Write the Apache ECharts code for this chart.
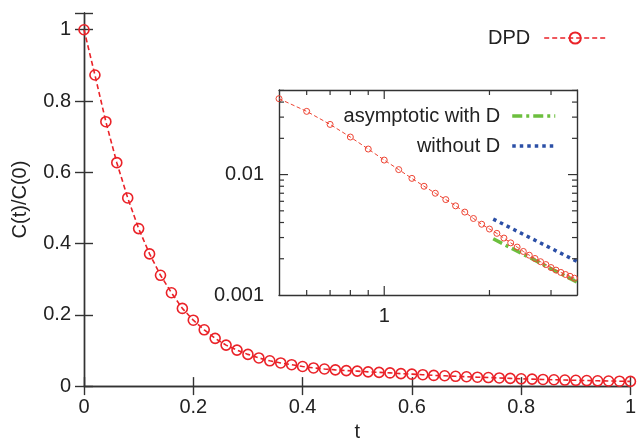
<!DOCTYPE html>
<html><head><meta charset="utf-8">
<script src="https://cdn.jsdelivr.net/npm/echarts@6/dist/echarts.min.js"></script>
<style>html,body{margin:0;padding:0;background:#fff}#c{width:639px;height:447px}</style>
</head><body><div id="c"></div>
<script>
// ---- main panel: DPD correlation C(t)/C(0) ----
const tMain = [0,0.02,0.04,0.06,0.08,0.10,0.12,0.14,0.16,0.18,0.20,0.22,0.24,0.26,0.28,0.30,0.32,0.34,0.36,0.38,0.40,0.42,0.44,0.46,0.48,0.50,0.52,0.54,0.56,0.58,0.60,0.62,0.64,0.66,0.68,0.70,0.72,0.74,0.76,0.78,0.80,0.82,0.84,0.86,0.88,0.90,0.92,0.94,0.96,0.98,1.00];
const cMain = [1.0,0.873,0.742,0.627,0.528,0.442,0.371,0.311,0.262,0.218,0.185,0.158,0.134,0.115,0.101,0.089,0.079,0.071,0.065,0.060,0.055,0.051,0.048,0.0455,0.0435,0.042,0.040,0.0385,0.037,0.035,0.0335,0.032,0.030,0.029,0.0275,0.0262,0.025,0.024,0.0228,0.0216,0.0205,0.0196,0.0187,0.0178,0.0170,0.0163,0.0156,0.0149,0.0143,0.0137,0.0132];
const mainXTicks = [0,0.2,0.4,0.6,0.8,1];
const mainYTicks = [0,0.2,0.4,0.6,0.8,1];

// ---- inset: log-log ----
const tInset = [0.5,0.6,0.7,0.8,0.9,1.0,1.1,1.2,1.3,1.4,1.5,1.6,1.7,1.8,1.9,2.0,2.1,2.2,2.3,2.4,2.5,2.6,2.7,2.8,2.9,3.0,3.1,3.2,3.3,3.4,3.5];
const cInset = [0.0427,0.0335,0.0261,0.0205,0.0163,0.0132,0.0110,0.0093,0.0080,0.0070,0.0062,0.0055,0.00488,0.00432,0.00387,0.00353,0.00325,0.00297,0.00271,0.00250,0.00230,0.00214,0.00201,0.00189,0.00179,0.00169,0.00161,0.00154,0.00148,0.00143,0.00138];
const tAsym = [2.05,3.56];
const cWithD = [0.00293,0.00128];
const cWithoutD = [0.00427,0.00190];
const insetXMinorTicks = [0.6,0.7,0.8,0.9,2,3];
const insetXMajorTicks = [1];
const insetYMinorTicks = [0.002,0.003,0.004,0.005,0.006,0.007,0.008,0.009,0.02,0.03,0.04,0.05];
const insetYMajorTicks = [0.01];
const insetXRange = [0.5,3.56];
const insetYRange = [0.001,0.0504];

const FONT = "'Liberation Sans', Arial, Helvetica, sans-serif";
const AX = '#333';
const TXT = '#222';
const RED = '#ea2228';
const RED2 = '#ee4433';
const GREEN = '#6cbf3e';
const BLUE = '#2b4fa6';

function zip(a,b){return a.map((v,i)=>[v,b[i]]);}
const lineAx = {show:true, lineStyle:{color:AX,width:1.4}};

const chart = echarts.init(document.getElementById('c'), null, {renderer:'canvas'});

function tickRender(isX){
  return function(params, api){
    const cs = params.coordSys;
    const major = api.value(2);
    const len = major ? 9 : 5;
    const st = {stroke:AX, lineWidth:1.2};
    if (isX){
      const p = api.coord([api.value(0), insetYRange[0]]);
      const yb = cs.y + cs.height, yt = cs.y;
      return {type:'group', children:[
        {type:'line', shape:{x1:p[0],y1:yb,x2:p[0],y2:yb-len}, style:st},
        {type:'line', shape:{x1:p[0],y1:yt,x2:p[0],y2:yt+len}, style:st}
      ]};
    } else {
      const p = api.coord([insetXRange[0], api.value(1)]);
      const xl = cs.x, xr = cs.x + cs.width;
      return {type:'group', children:[
        {type:'line', shape:{x1:xl,y1:p[1],x2:xl+len,y2:p[1]}, style:st},
        {type:'line', shape:{x1:xr,y1:p[1],x2:xr-len,y2:p[1]}, style:st}
      ]};
    }
  };
}

const xTickData = insetXMinorTicks.map(v=>[v,insetYRange[0],0]).concat(insetXMajorTicks.map(v=>[v,insetYRange[0],1]));
const yTickData = insetYMinorTicks.map(v=>[insetXRange[0],v,0]).concat(insetYMajorTicks.map(v=>[insetXRange[0],v,1]));

function fmtMain(v){
  const ok = mainXTicks.some(t=>Math.abs(t-v)<1e-6);
  return ok ? String(Number(v.toFixed(2))) : '';
}
function fmtLog(v){
  const l = Math.log10(v);
  return Math.abs(l-Math.round(l))<1e-6 ? String(Number(v.toPrecision(6))) : '';
}

const option = {
  animation:false,
  backgroundColor:'#fff',
  textStyle:{fontFamily:FONT},
  grid:[
    {left:84, top:13, width:549, height:396},
    {left:279, top:90, width:298, height:205}
  ],
  legend:[
    {data:['DPD'], right:32, top:26, align:'right', padding:0, itemWidth:62, itemHeight:14,
     lineStyle:{width:'inherit'},
     textStyle:{fontFamily:FONT, fontSize:20, color:TXT, lineHeight:24, padding:[0,9,0,0]}},
    {data:[{name:'asymptotic with D', itemStyle:{opacity:0}}, {name:'without D', itemStyle:{opacity:0}}],
     orient:'vertical', right:82, top:104, align:'right', padding:0,
     itemGap:6, itemWidth:43, itemHeight:14,
     lineStyle:{width:'inherit'},
     textStyle:{fontFamily:FONT, fontSize:20, color:TXT, lineHeight:24, padding:[0,7,0,0]}}
  ],
  xAxis:[
    {gridIndex:0, type:'value', min:0, max:1, interval:0.2, position:'bottom',
     axisLine:lineAx, axisTick:{inside:true, length:9, lineStyle:{color:AX,width:1.4}},
     axisLabel:{fontFamily:FONT, fontSize:20, color:TXT, margin:11, formatter:fmtMain},
     splitLine:{show:false},
     name:'t', nameLocation:'middle', nameGap:22, nameTextStyle:{fontFamily:FONT, fontSize:20, color:TXT}},
    {gridIndex:0, type:'value', min:0, max:1, interval:0.2, position:'top',
     axisLine:lineAx, axisTick:{inside:true, length:9, lineStyle:{color:AX,width:1.4}},
     axisLabel:{show:false}, splitLine:{show:false}},
    {gridIndex:1, type:'log', logBase:10, min:insetXRange[0], max:insetXRange[1], position:'bottom',
     axisLine:lineAx, axisTick:{show:false},
     axisLabel:{fontFamily:FONT, fontSize:20, color:TXT, margin:11, formatter:fmtLog},
     splitLine:{show:false}},
    {gridIndex:1, type:'log', logBase:10, min:insetXRange[0], max:insetXRange[1], position:'top',
     axisLine:lineAx, axisTick:{show:false}, axisLabel:{show:false}, splitLine:{show:false}}
  ],
  yAxis:[
    {gridIndex:0, type:'value', min:0, max:1.047, interval:0.2, position:'left',
     axisLine:lineAx, axisTick:{inside:true, length:9, lineStyle:{color:AX,width:1.4}},
     axisLabel:{fontFamily:FONT, fontSize:20, color:TXT, margin:13, formatter:fmtMain},
     splitLine:{show:false},
     name:'C(t)/C(0)', nameLocation:'middle', nameGap:54, nameTextStyle:{fontFamily:FONT, fontSize:20, color:TXT}},
    {gridIndex:0, type:'value', min:0, max:1.047, interval:0.2, position:'right',
     axisLine:lineAx, axisTick:{inside:true, length:9, lineStyle:{color:AX,width:1.4}},
     axisLabel:{show:false}, splitLine:{show:false}},
    {gridIndex:1, type:'log', logBase:10, min:insetYRange[0], max:insetYRange[1], position:'left',
     axisLine:lineAx, axisTick:{show:false},
     axisLabel:{fontFamily:FONT, fontSize:20, color:TXT, margin:15, formatter:fmtLog},
     splitLine:{show:false}},
    {gridIndex:1, type:'log', logBase:10, min:insetYRange[0], max:insetYRange[1], position:'right',
     axisLine:lineAx, axisTick:{show:false}, axisLabel:{show:false}, splitLine:{show:false}}
  ],
  series:[
    {name:'DPD', type:'line', xAxisIndex:0, yAxisIndex:0, data:zip(tMain,cMain), clip:false,
     symbol:'circle', symbolSize:10,
     itemStyle:{color:'rgba(255,255,255,0)', borderColor:RED, borderWidth:1.6},
     lineStyle:{color:RED, width:1.6, type:[5,3]}, z:5},
    {name:'DPD inset', type:'line', xAxisIndex:2, yAxisIndex:2, data:zip(tInset,cInset), clip:false,
     symbol:'circle', symbolSize:6,
     itemStyle:{color:'rgba(255,255,255,0)', borderColor:RED2, borderWidth:1},
     lineStyle:{color:RED2, width:1, type:[4,2.5]}, z:5},
    {name:'asymptotic with D', type:'line', xAxisIndex:2, yAxisIndex:2, data:zip(tAsym,cWithD),
     symbol:'none', lineStyle:{color:GREEN, width:3.5, type:[10,4,3,4]}, itemStyle:{color:GREEN}, z:4},
    {name:'without D', type:'line', xAxisIndex:2, yAxisIndex:2, data:zip(tAsym,cWithoutD),
     symbol:'none', lineStyle:{color:BLUE, width:3.5, type:[3.5,4]}, itemStyle:{color:BLUE}, z:4},
    {type:'custom', xAxisIndex:2, yAxisIndex:2, data:xTickData, renderItem:tickRender(true), silent:true, z:6},
    {type:'custom', xAxisIndex:2, yAxisIndex:2, data:yTickData, renderItem:tickRender(false), silent:true, z:6}
  ]
};
chart.setOption(option);
</script>
</body></html>
